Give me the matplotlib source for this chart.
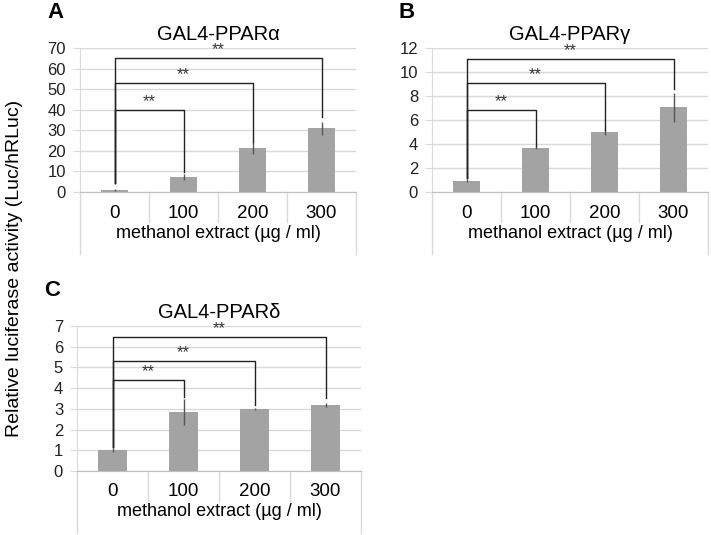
import numpy as np
import matplotlib
matplotlib.use('Agg')
from matplotlib import pyplot as plt
from matplotlib.transforms import blended_transform_factory

plt.rcParams['font.family'] = ['Liberation Sans', 'DejaVu Sans']

doses = ['0', '100', '200', '300']

# panel A  GAL4-PPARa
a_mean = [1.0, 7.4, 21.3, 30.9]
a_err = [0.3, 1.5, 2.8, 3.2]
a_brk = [40, 53, 65]          # bracket heights
a_leg = [4.3, 9.9, 24.5, 36.5]  # leg bottoms (0, 100, 200, 300)
a_ticks = [0, 10, 20, 30, 40, 50, 60, 70]

# panel B  GAL4-PPARg
b_mean = [0.95, 3.7, 4.97, 7.05]
b_err = [0.12, 0.1, 0.25, 1.2]
b_brk = [6.85, 9.1, 11.1]
b_leg = [1.15, 3.85, 5.2, 8.6]
b_ticks = [0, 2, 4, 6, 8, 10, 12]

# panel C  GAL4-PPARd
c_mean = [1.0, 2.86, 3.0, 3.19]
c_err = [0.1, 0.62, 0.05, 0.1]
c_brk = [4.4, 5.33, 6.48]
c_leg = [1.17, 3.56, 3.19, 3.52]
c_ticks = [0, 1, 2, 3, 4, 5, 6, 7]

W, H = 711, 535
fig = plt.figure(figsize=(W / 100, H / 100), dpi=100)


def panel(rect, mean, err, brk, leg, ticks, title, letter, letter_y):
    left, top, right, bottom = rect
    ax = fig.add_axes([left / W, 1 - bottom / H, (right - left) / W, (bottom - top) / H])
    hpx = bottom - top
    x = np.arange(len(doses))
    ax.bar(x, mean, width=0.4, color='#a3a3a3', zorder=2)
    ax.errorbar(x, mean, yerr=err, fmt='none', ecolor='#555555', elinewidth=1, capsize=0, zorder=3)
    ax.set_xlim(-0.5, 3.5)
    ax.set_ylim(ticks[0], ticks[-1])
    ax.set_yticks(ticks)
    ax.yaxis.grid(True, color='#d9d9d9', lw=1, zorder=0)
    ax.set_xticks(x)
    ax.set_xticklabels(doses, fontsize=13.5)
    ax.tick_params(axis='x', length=0, pad=9)
    ax.tick_params(axis='y', length=5, color='#d9d9d9', labelsize=12, pad=5, labelcolor='#222222')
    for s in ['top', 'right']:
        ax.spines[s].set_visible(False)
    ax.spines['left'].set_color('#d9d9d9')
    ax.spines['bottom'].set_color('#bfbfbf')
    # category separators
    tr = blended_transform_factory(ax.transData, ax.transAxes)
    for b in [0.5, 1.5, 2.5]:
        ax.plot([b, b], [0, -30 / hpx], color='#d9d9d9', lw=1, transform=tr, clip_on=False)
    for b in [-0.5, 3.5]:
        ax.plot([b, b], [0, -62 / hpx], color='#d9d9d9', lw=1, transform=tr, clip_on=False)
    ax.text(0.5, -41 / hpx, 'methanol extract (µg / ml)', transform=ax.transAxes,
            ha='center', va='center', fontsize=13)
    # significance brackets
    for i, h in enumerate(brk):
        j = i + 1
        ax.plot([0, 0, j, j], [leg[0], h, h, leg[j]], color='#222222', lw=1, zorder=4)
        ax.annotate('**', (j / 2, h), xytext=(0, 0.5), textcoords='offset points',
                    ha='center', va='bottom', fontsize=12, color='#333333')
    ax.set_title(title, fontsize=14.5, pad=6)
    fig.text((left - 33) / W, 1 - letter_y / H, letter,
             fontsize=16, fontweight='bold', ha='left', va='center')
    return ax


panel((80, 48, 356, 192), a_mean, a_err, a_brk, a_leg, a_ticks, 'GAL4-PPARα', 'A', 13)
panel((432, 48, 708, 192), b_mean, b_err, b_brk, b_leg, b_ticks, 'GAL4-PPARγ', 'B', 13)
panel((77, 326, 361, 471), c_mean, c_err, c_brk, c_leg, c_ticks, 'GAL4-PPARδ', 'C', 291)

fig.text(15 / W, 1 - 268 / H, 'Relative luciferase activity (Luc/hRLuc)', rotation=90,
         ha='center', va='center', fontsize=14)

fig.savefig('out.png', dpi=100)
